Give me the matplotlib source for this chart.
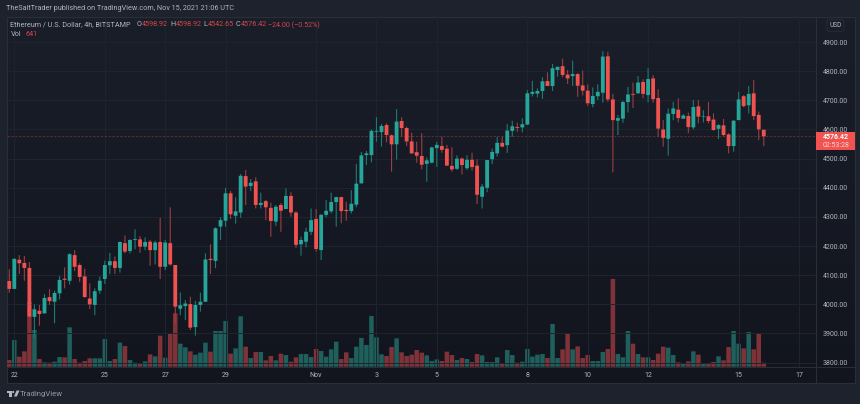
import numpy as np
import matplotlib
matplotlib.use('Agg')
import matplotlib.pyplot as plt
from matplotlib.patches import Rectangle, Polygon, Circle

plt.rcParams['font.family'] = ['Roboto', 'DejaVu Sans']

# 4h ETH/USD candles, first one starts two bars before Oct 22
opens = [4135, 4080, 4053, 4153, 4142, 4125, 3957, 3978, 3969, 4025,
         4009, 4038, 4088, 4081, 4169, 4135, 4096, 4020, 3998, 4047,
         4087, 4134, 4148, 4125, 4210, 4183, 4221, 4223, 4198, 4215,
         4186, 4214, 4129, 4210, 4135, 3985, 3994, 4001, 3922, 3998,
         4009, 4156, 4149, 4267, 4287, 4381, 4304, 4315, 4440, 4406,
         4422, 4341, 4354, 4331, 4284, 4341, 4327, 4372, 4315, 4206,
         4215, 4249, 4293, 4186, 4307, 4319, 4351, 4368, 4324, 4320,
         4342, 4415, 4512, 4512, 4592, 4591, 4615, 4580, 4549, 4629,
         4605, 4559, 4522, 4509, 4482, 4486, 4536, 4543, 4534, 4475,
         4465, 4500, 4467, 4496, 4476, 4369, 4400, 4498, 4518, 4554,
         4546, 4595, 4608, 4607, 4617, 4722, 4723, 4732, 4766, 4749,
         4804, 4817, 4788, 4783, 4790, 4751, 4733, 4687, 4714, 4726,
         4851, 4703, 4630, 4637, 4694, 4722, 4724, 4763, 4718, 4775,
         4708, 4600, 4568, 4653, 4668, 4637, 4646, 4607, 4679, 4643,
         4645, 4634, 4602, 4614, 4583, 4543, 4632, 4714, 4683, 4724,
         4650, 4598.92]
highs = [4150, 4120, 4158, 4169, 4166, 4145, 4000, 3998, 4035, 4052,
         4047, 4097, 4127, 4175, 4186, 4141, 4122, 4072, 4055, 4095,
         4150, 4177, 4164, 4215, 4236, 4223, 4257, 4234, 4230, 4221,
         4218, 4297, 4221, 4333, 4135, 4041, 4015, 4026, 4012, 4040,
         4175, 4206, 4264, 4299, 4400, 4389, 4367, 4447, 4461, 4430,
         4436, 4383, 4358, 4349, 4341, 4347, 4398, 4385, 4320, 4232,
         4263, 4329, 4327, 4310, 4358, 4383, 4369, 4369, 4352, 4392,
         4482, 4523, 4526, 4600, 4642, 4619, 4621, 4583, 4670, 4642,
         4610, 4589, 4558, 4587, 4504, 4541, 4558, 4575, 4547, 4539,
         4511, 4504, 4512, 4520, 4498, 4413, 4495, 4534, 4575, 4575,
         4619, 4630, 4623, 4638, 4735, 4767, 4741, 4779, 4796, 4825,
         4815, 4843, 4804, 4836, 4793, 4802, 4755, 4744, 4755, 4869,
         4867, 4722, 4650, 4698, 4746, 4761, 4783, 4772, 4811, 4786,
         4738, 4632, 4672, 4695, 4707, 4653, 4658, 4701, 4701, 4666,
         4694, 4655, 4618, 4636, 4587, 4632, 4729, 4718, 4749, 4770,
         4661, 4598.92]
lows = [4095, 4040, 4053, 4104, 4081, 3956, 3886, 3927, 3969, 3998,
        3935, 4017, 4055, 4068, 4114, 4077, 4023, 3984, 3963, 4036,
        4070, 4104, 4104, 4109, 4175, 4175, 4189, 4177, 4186, 4133,
        4137, 4087, 4118, 4133, 3933, 3963, 3946, 3912, 3893, 3975,
        4009, 4104, 4124, 4221, 4266, 4293, 4277, 4297, 4341, 4389,
        4329, 4329, 4289, 4232, 4269, 4249, 4327, 4301, 4194, 4167,
        4196, 4238, 4181, 4152, 4299, 4312, 4267, 4278, 4287, 4312,
        4333, 4415, 4478, 4487, 4558, 4541, 4556, 4455, 4497, 4575,
        4543, 4516, 4486, 4463, 4421, 4484, 4472, 4520, 4475, 4455,
        4461, 4446, 4461, 4459, 4344, 4329, 4385, 4481, 4507, 4539,
        4520, 4575, 4591, 4590, 4615, 4713, 4710, 4705, 4749, 4732,
        4781, 4779, 4756, 4749, 4712, 4717, 4680, 4676, 4701, 4692,
        4695, 4453, 4581, 4623, 4658, 4674, 4722, 4707, 4693, 4692,
        4575, 4541, 4510, 4632, 4624, 4636, 4587, 4600, 4621, 4624,
        4621, 4596, 4567, 4575, 4518, 4524, 4632, 4676, 4655, 4632,
        4564, 4542.65]
closes = [4110, 4053, 4156, 4141, 4125, 3958, 3983, 3967, 4022, 4011,
          4039, 4084, 4084, 4172, 4129, 4094, 4025, 4000, 4045, 4081,
          4135, 4148, 4125, 4214, 4181, 4221, 4224, 4198, 4214, 4186,
          4212, 4129, 4212, 4137, 3992, 3997, 4003, 3920, 3998, 4009,
          4154, 4152, 4261, 4289, 4381, 4309, 4319, 4441, 4404, 4417,
          4341, 4348, 4333, 4286, 4335, 4321, 4372, 4315, 4204, 4221,
          4249, 4289, 4190, 4307, 4321, 4351, 4368, 4320, 4320, 4345,
          4414, 4511, 4518, 4595, 4595, 4612, 4581, 4549, 4627, 4605,
          4559, 4518, 4510, 4479, 4494, 4538, 4547, 4530, 4476, 4463,
          4500, 4478, 4496, 4471, 4376, 4404, 4495, 4523, 4554, 4541,
          4596, 4611, 4605, 4618, 4724, 4729, 4732, 4765, 4749, 4810,
          4815, 4787, 4775, 4790, 4750, 4733, 4690, 4715, 4729, 4850,
          4703, 4632, 4639, 4694, 4720, 4719, 4761, 4722, 4773, 4704,
          4603, 4571, 4654, 4672, 4639, 4648, 4608, 4677, 4644, 4645,
          4629, 4598, 4615, 4581, 4543, 4630, 4703, 4680, 4722, 4646,
          4600.42, 4576.42]
volumes = [3364, 1068, 4272, 1602, 2456, 10360, 5874, 1228, 694, 641,
           801, 1549, 1495, 6301, 1228, 641, 908, 1335, 1335, 1335,
           4432, 908, 1228, 3845, 3311, 1068, 641, 587, 854, 1976,
           1655, 4966, 1442, 5287, 8544, 3685, 3097, 2456, 1922, 2243,
           3845, 2403, 5714, 5714, 7316, 2083, 2937, 8063, 3204, 1388,
           2350, 2350, 1015, 1709, 1015, 2083, 1869, 801, 1495, 2029,
           2029, 1549, 2830, 2510, 1602, 2777, 4005, 1228, 2296, 1388,
           3204, 4592, 3471, 8117, 4699, 1976, 1709, 3151, 4539, 2296,
           1709, 1922, 2670, 2243, 1816, 908, 1175, 908, 2403, 1869,
           1068, 1388, 1228, 748, 2029, 1816, 748, 748, 1495, 587,
           2670, 1869, 641, 801, 2830, 1602, 1922, 2029, 1388, 6835,
           1388, 2777, 5393, 2777, 3257, 1388, 1869, 908, 908, 2350,
           2830, 14044, 2029, 1495, 5714, 3685, 2029, 1495, 1495, 1068,
           2083, 3204, 3044, 1869, 694, 427, 854, 2456, 1922, 427,
           587, 748, 1655, 1015, 3151, 5714, 3685, 2937, 5554, 2777,
           5287, 641]

price_ticks = [3800, 3900, 4000, 4100, 4200, 4300, 4400, 4500, 4600, 4700, 4800, 4900]
day_ticks = [0, 18, 30, 42, 60, 72, 84, 102, 114, 126, 144, 156]
day_labels = ['22', '25', '27', '29', 'Nov', '3', '5', '8', '10', '12', '15', '17']
last_price = 4576.42

BG = '#1e222d'
GRID = '#20242f'
BORDER = '#2a2e39'
TEXT = '#b2b5be'
UP = '#26a69a'
DOWN = '#ef5350'
UP_WICK = '#1f7a73'
DOWN_WICK = '#9a3e43'
UP_VOL = '#1f5f5c'
DOWN_VOL = '#7f3338'
W, H = 860, 404

fig = plt.figure(figsize=(W / 100, H / 100), dpi=100, facecolor=BG)

# page chrome, in pixels
page = fig.add_axes([0, 0, 1, 1])
page.set_xlim(0, W)
page.set_ylim(H, 0)
page.axis('off')
shade = np.linspace(0, 1, 64)[:, None, None] * (np.array([18, 21, 30]) - np.array([26, 30, 41])) + np.array([26, 30, 41])
page.imshow(shade.astype(np.uint8), extent=(6.7, 854.7, 382.7, 17), aspect='auto', zorder=0)
page.set_xlim(0, W)
page.set_ylim(H, 0)
page.add_patch(Rectangle((6.7, 17), 848, 365.7, fill=False, ec=BORDER, lw=0.8, zorder=1))
page.plot([816.3, 816.3], [17, 382.7], color=BORDER, lw=0.8, zorder=1)
page.plot([6.7, 854.7], [366.7, 366.7], color=BORDER, lw=0.7, zorder=1)

# price pane
left, right = 6.7, 816.3
top, bottom = 17, 366.7
ax = fig.add_axes([left / W, 1 - bottom / H, (right - left) / W, (bottom - top) / H])
ax_vol = ax.twinx()
ax.set_zorder(ax_vol.get_zorder() + 1)
ax.patch.set_visible(False)
ax_vol.patch.set_visible(False)

x = np.arange(len(closes)) - 2
up = np.array(closes) >= np.array(opens)
body_bottom = np.minimum(opens, closes)
body_height = np.maximum(np.abs(np.array(closes) - np.array(opens)), 1.5)

# snap off, otherwise the bars land on whole pixels and the spacing looks uneven
vol_bars = ax_vol.bar(x, volumes, width=0.9, color=[UP_VOL if u else DOWN_VOL for u in up], linewidth=0)
for bar in vol_bars:
    bar.set_snap(False)
ax_vol.set_ylim(0, 55952)
ax_vol.set_yticks([])

wicks = ax.vlines(x, lows, highs, colors=[UP_WICK if u else DOWN_WICK for u in up], linewidth=0.8, zorder=3)
wicks.set_snap(False)
bodies = ax.bar(x, body_height, bottom=body_bottom, width=0.76, color=[UP if u else DOWN for u in up], linewidth=0, zorder=4)
for bar in bodies:
    bar.set_snap(False)
ax.axhline(last_price, color='#66292f', lw=0.7, ls=(0, (2.5, 1.5)), zorder=2)

ax.set_xlim(-1.51, 159.44)
ax.set_ylim(3786.1, 4985.8)
ax.set_yticks(price_ticks, ['%.2f' % p for p in price_ticks])
ax.set_xticks(day_ticks, day_labels)
ax.yaxis.tick_right()
ax.tick_params(axis='both', length=0, labelcolor=TEXT, labelsize=5)
ax.tick_params(axis='y', pad=4.4)
ax.tick_params(axis='x', pad=3.5)
ax.grid(True, color=GRID, lw=0.7, zorder=0)
ax.set_axisbelow(True)
for a in (ax, ax_vol):
    for spine in a.spines.values():
        spine.set_visible(False)

# last price tag, USD button, header and legend line
overlay = fig.add_axes([0, 0, 1, 1], zorder=10)
overlay.set_xlim(0, W)
overlay.set_ylim(H, 0)
overlay.axis('off')
overlay.add_patch(Rectangle((816, 131.7), 39.3, 18.3, color='#f05350', lw=0))
overlay.text(823, 136.8, '4576.42', color='white', fontsize=5, fontweight='bold', va='center')
overlay.text(823, 145.2, '02:53:28', color='#fbd5d4', fontsize=5, va='center')
overlay.text(835.5, 25.5, 'USD', color=TEXT, fontsize=4.8, ha='center', va='center',
             bbox=dict(boxstyle='round,pad=0.35', fc='none', ec=BORDER, lw=0.6))

overlay.text(6.5, 9, 'TheSaltTrader published on TradingView.com, Nov 15, 2021 21:06 UTC',
             color=TEXT, fontsize=5.2, va='center')
overlay.text(10.5, 25, 'Ethereum / U.S. Dollar, 4h, BITSTAMP', color=TEXT, fontsize=5.2, va='center')
red_text = '#d2474a'
for label, lx, value, vx in [('O', 137, '4598.92', 142), ('H', 170.5, '4598.92', 176),
                             ('L', 203.5, '4542.65', 207.5), ('C', 236, '4576.42', 240.5)]:
    overlay.text(lx, 25, label, color=TEXT, fontsize=5.2, va='center')
    overlay.text(vx, 25, value, color=red_text, fontsize=5.2, va='center')
overlay.text(268, 25, '\u221224.00 (\u22120.52%)', color=red_text, fontsize=5.1, va='center')
overlay.text(11, 35, 'Vol', color=TEXT, fontsize=5.2, va='center')
overlay.text(25, 35, '641', color=red_text, fontsize=5.2, va='center')

# TradingView logo
logo = '#b2b5be'
overlay.add_patch(Polygon([(6.5, 390.5), (11.5, 390.5), (11.5, 396.5), (9, 396.5), (9, 392.8), (6.5, 392.8)], color=logo, lw=0))
overlay.add_patch(Circle((13.2, 392), 1.1, color=logo, lw=0))
overlay.add_patch(Polygon([(14, 396.5), (16.6, 390.5), (19.5, 390.5), (16.8, 396.5)], color=logo, lw=0))
overlay.text(20, 394.2, 'TradingView', color='#9598a1', fontsize=5.6, va='center')

fig.savefig('out.png', dpi=100, facecolor=BG)
